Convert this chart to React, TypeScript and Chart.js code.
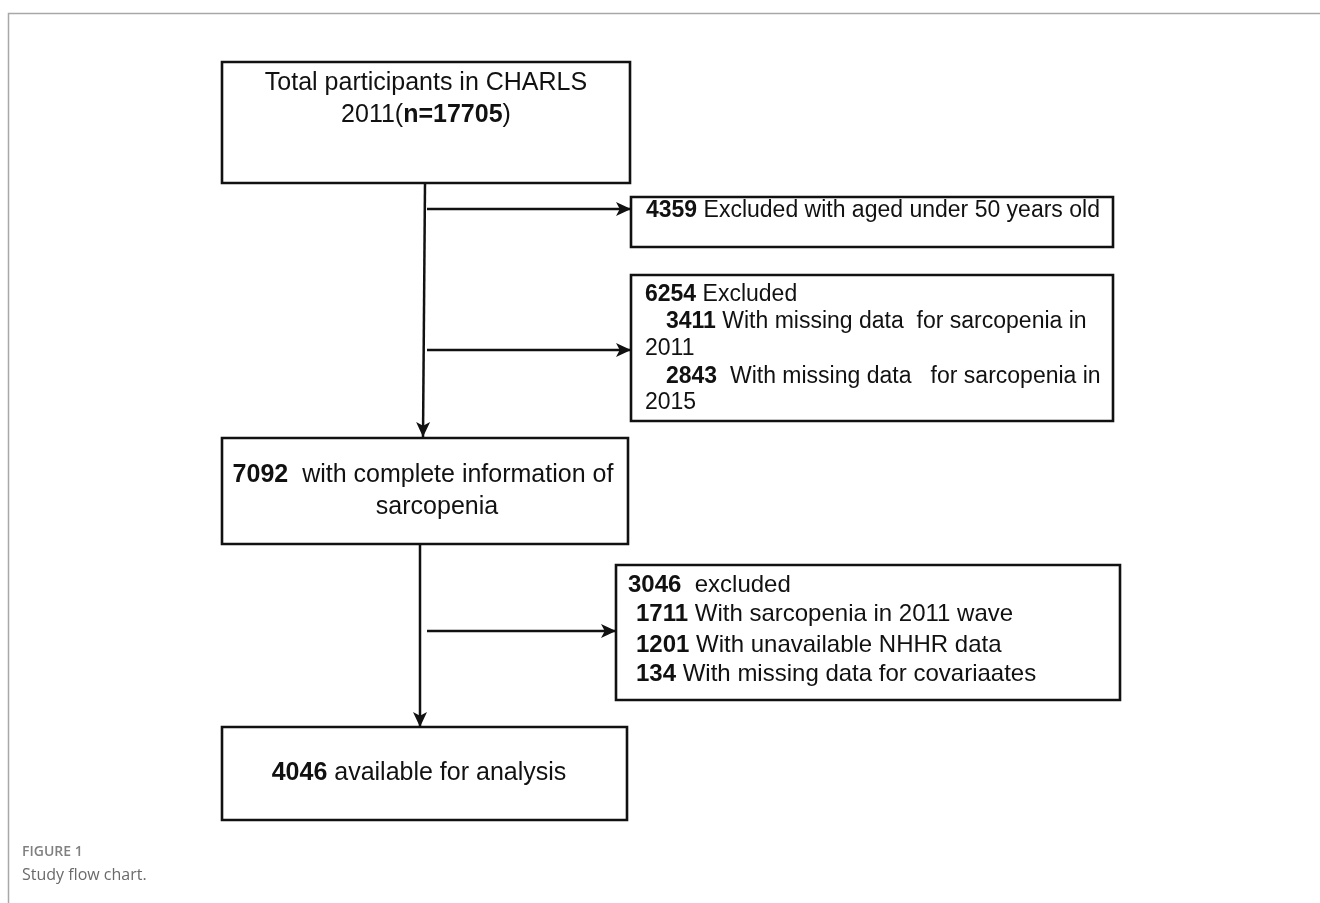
import React, { useEffect, useRef } from "react";
import { Chart, registerables } from "chart.js";

Chart.register(...registerables);

// ---- content (text + counts) ----
type Seg = [string, boolean];
const totalLines: Seg[][] = [
  [["Total participants in CHARLS", false]],
  [["2011(", false], ["n=17705", true], [")", false]],
];
const ageExcludedLines: Seg[][] = [
  [["4359", true], [" Excluded with aged under 50 years old", false]],
];
const missingExcludedLines: Seg[][] = [
  [["6254", true], [" Excluded", false]],
  [["3411", true], [" With missing data  for sarcopenia in", false]],
  [["2011", false]],
  [["2843", true], ["  With missing data   for sarcopenia in", false]],
  [["2015", false]],
];
const completeLines: Seg[][] = [
  [["7092", true], ["  with complete information of", false]],
  [["sarcopenia", false]],
];
const secondExcludedLines: Seg[][] = [
  [["3046", true], ["  excluded", false]],
  [["1711", true], [" With sarcopenia in 2011 wave", false]],
  [["1201", true], [" With unavailable NHHR data", false]],
  [["134", true], [" With missing data for covariaates", false]],
];
const finalLines: Seg[][] = [
  [["4046", true], [" available for analysis", false]],
];
const captionLabel = "FIGURE 1";
const captionText = "Study flow chart.";

// ---- layout (scale units == page pixels) ----
type Box = { x0: number; y0: number; x1: number; y1: number; lines: Seg[][]; align: "center" | "left"; tx: number[]; ty: number[]; size: number };
const boxes: Box[] = [
  { x0: 222, y0: 62, x1: 630, y1: 183, lines: totalLines, align: "center", tx: [426, 426], ty: [83, 115], size: 25 },
  { x0: 631, y0: 197, x1: 1113, y1: 247, lines: ageExcludedLines, align: "left", tx: [646], ty: [211], size: 23 },
  { x0: 631, y0: 275, x1: 1113, y1: 421, lines: missingExcludedLines, align: "left", tx: [645, 666, 645, 666, 645], ty: [295, 322, 349, 377, 403], size: 23 },
  { x0: 222, y0: 438, x1: 628, y1: 544, lines: completeLines, align: "center", tx: [423, 437], ty: [475, 507], size: 25 },
  { x0: 616, y0: 565, x1: 1120, y1: 700, lines: secondExcludedLines, align: "left", tx: [628, 636, 636, 636], ty: [585, 614, 645, 674], size: 24 },
  { x0: 222, y0: 727, x1: 627, y1: 820, lines: finalLines, align: "center", tx: [419], ty: [773], size: 25 },
];
const connectors: { from: [number, number]; to: [number, number] }[] = [
  { from: [425, 183], to: [423, 437] },
  { from: [427, 209], to: [631, 209] },
  { from: [427, 350], to: [631, 350] },
  { from: [420, 544], to: [420, 727] },
  { from: [427, 631], to: [616, 631] },
];

const FONT = "'Liberation Sans', Arial, sans-serif";

export default function App() {
  const ref = useRef<HTMLCanvasElement | null>(null);
  useEffect(() => {
    if (!ref.current) return;
    const datasets: any[] = [];
    boxes.forEach((b) => {
      datasets.push({
        data: [
          { x: b.x0, y: b.y0 },
          { x: b.x1, y: b.y0 },
          { x: b.x1, y: b.y1 },
          { x: b.x0, y: b.y1 },
          { x: b.x0, y: b.y0 },
        ],
        showLine: true,
        borderColor: "#111",
        borderWidth: 2.6,
        pointRadius: 0,
        borderJoinStyle: "miter",
        borderCapStyle: "square",
        tension: 0,
      });
    });
    connectors.forEach((c) => {
      datasets.push({
        data: [
          { x: c.from[0], y: c.from[1] },
          { x: c.to[0], y: c.to[1] },
        ],
        showLine: true,
        borderColor: "#111",
        borderWidth: 2.5,
        pointRadius: 0,
        tension: 0,
      });
    });

    const drawPlugin = {
      id: "flowDraw",
      beforeDraw(chart: any) {
        const ctx = chart.ctx;
        ctx.save();
        ctx.fillStyle = "#fff";
        ctx.fillRect(0, 0, chart.width, chart.height);
        ctx.strokeStyle = "#a8a8a8";
        ctx.lineWidth = 1.5;
        ctx.beginPath();
        ctx.moveTo(1320, 13.5);
        ctx.lineTo(8.5, 13.5);
        ctx.lineTo(8.5, 903);
        ctx.stroke();
        ctx.restore();
      },
      afterDatasetsDraw(chart: any) {
        const ctx = chart.ctx;
        const xs = chart.scales.x;
        const ys = chart.scales.y;
        const px = (v: number) => xs.getPixelForValue(v);
        const py = (v: number) => ys.getPixelForValue(v);
        ctx.save();
        ctx.fillStyle = "#111";
        connectors.forEach((c) => {
          const x0 = px(c.from[0]), y0 = py(c.from[1]);
          const x1 = px(c.to[0]), y1 = py(c.to[1]);
          const ang = Math.atan2(y1 - y0, x1 - x0);
          const L = 15, W = 7;
          ctx.beginPath();
          ctx.moveTo(x1, y1);
          ctx.lineTo(x1 - L * Math.cos(ang) + W * Math.sin(ang), y1 - L * Math.sin(ang) - W * Math.cos(ang));
          ctx.lineTo(x1 - L * 0.75 * Math.cos(ang), y1 - L * 0.75 * Math.sin(ang));
          ctx.lineTo(x1 - L * Math.cos(ang) - W * Math.sin(ang), y1 - L * Math.sin(ang) + W * Math.cos(ang));
          ctx.closePath();
          ctx.fill();
        });
        ctx.fillStyle = "#111";
        ctx.textBaseline = "middle";
        ctx.textAlign = "left";
        boxes.forEach((b) => {
          b.lines.forEach((line, i) => {
            const fonts = line.map(([, bold]) => `${bold ? "bold " : ""}${b.size}px ${FONT}`);
            const widths = line.map(([t], k) => {
              ctx.font = fonts[k];
              return ctx.measureText(t).width;
            });
            const total = widths.reduce((a, w) => a + w, 0);
            let x = b.align === "center" ? px(b.tx[i]) - total / 2 : px(b.tx[i]);
            const y = py(b.ty[i]);
            line.forEach(([t], k) => {
              ctx.font = fonts[k];
              ctx.fillText(t, x, y);
              x += widths[k];
            });
          });
        });
        ctx.fillStyle = "#808080";
        ctx.font = "600 14px 'Open Sans', sans-serif";
        ctx.fillText(captionLabel, 22, 852);
        ctx.fillStyle = "#6a6a6a";
        ctx.font = "16px 'Open Sans', sans-serif";
        ctx.fillText(captionText, 22, 875);
        ctx.restore();
      },
    };

    const chart = new Chart(ref.current, {
      type: "scatter",
      data: { datasets },
      options: {
        animation: false,
        responsive: false,
        maintainAspectRatio: false,
        layout: { padding: 0 },
        plugins: { legend: { display: false }, tooltip: { enabled: false } },
        scales: {
          x: { type: "linear", min: 0, max: 1320, display: false },
          y: { type: "linear", min: 0, max: 903, reverse: true, display: false },
        },
      },
      plugins: [drawPlugin],
    });
    return () => chart.destroy();
  }, []);

  return (
    <div style={{ position: "fixed", left: 0, top: 0, width: 1320, height: 903, background: "#fff" }}>
      <canvas ref={ref} width={1320} height={903} style={{ display: "block", width: 1320, height: 903 }} />
    </div>
  );
}
